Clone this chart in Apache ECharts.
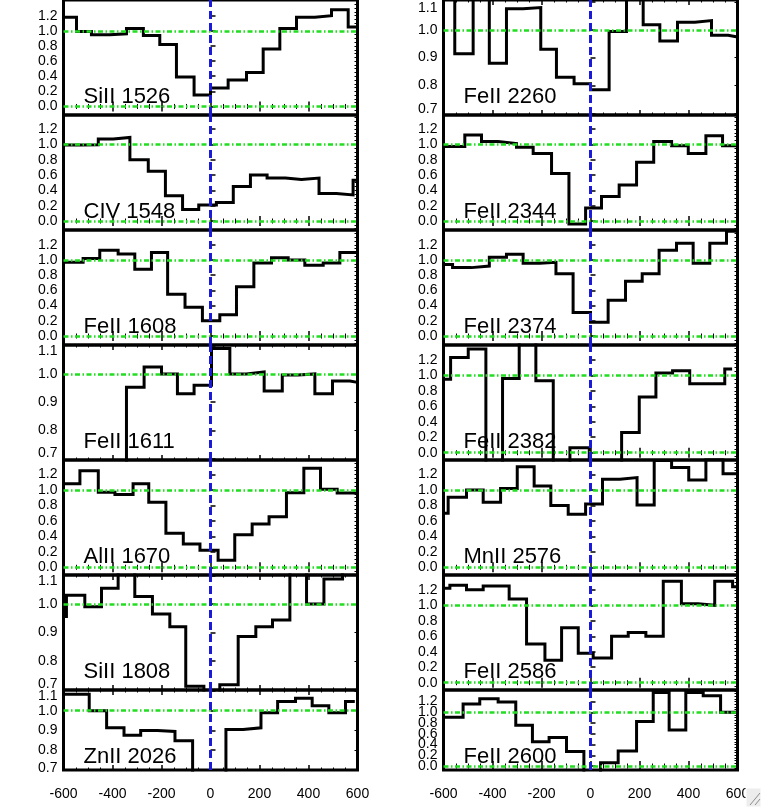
<!DOCTYPE html>
<html><head><meta charset="utf-8">
<script src="https://cdn.jsdelivr.net/npm/echarts@6/dist/echarts.min.js"></script>
<style>html,body{margin:0;padding:0;background:#fff}#c{width:761px;height:807px}</style>
</head><body><div id="c"></div>
<script>
// ---------------- data ----------------
const xTicks = [-600, -400, -200, 0, 200, 400, 600];
const normTicks = [0.0, 0.2, 0.4, 0.6, 0.8, 1.0, 1.2];
const narrowTicks = [0.7, 0.8, 0.9, 1.0, 1.1];

const namesLeft  = ["SiII 1526", "CIV 1548", "FeII 1608", "FeII 1611", "AlII 1670", "SiII 1808", "ZnII 2026"];
const namesRight = ["FeII 2260", "FeII 2344", "FeII 2374", "FeII 2382", "MnII 2576", "FeII 2586", "FeII 2600"];

// bin edges (km/s) and normalised flux per bin
const edges_SiII1526 = [-600, -547, -486, -411, -343, -274, -207, -139, -67, 0, 72, 147, 215, 283, 351, 426, 494, 562, 600];
const flux_SiII1526  = [1.18, 0.99, 0.95, 0.96, 1.03, 0.94, 0.82, 0.39, 0.15, 0.245, 0.35, 0.45, 0.76, 1.03, 1.18, 1.2, 1.28, 1.05];

const edges_CIV1548 = [-600, -527, -458, -397, -329, -254, -184, -114, -48, 24, 93, 163, 231, 306, 371, 443, 514, 582, 600];
const flux_CIV1548  = [0.99, 0.995, 1.07, 1.09, 0.8, 0.65, 0.33, 0.15, 0.21, 0.24, 0.45, 0.6, 0.56, 0.54, 0.56, 0.36, 0.34, 0.53];

const edges_FeII1608 = [-600, -520, -452, -377, -309, -241, -175, -104, -33, 38, 106, 177, 249, 317, 385, 460, 528, 600];
const flux_FeII1608  = [0.97, 1.02, 1.13, 1.08, 0.88, 1.10, 0.55, 0.38, 0.20, 0.28, 0.65, 0.96, 1.03, 1.0, 0.93, 0.96, 1.10];

const edges_FeII1611 = [-600, -549, -480, -412, -343, -271, -200, -135, -67, 4, 79, 147, 219, 293, 358, 426, 498, 569, 600];
const flux_FeII1611  = [0.55, 0.55, 0.6, 0.6, 0.953, 1.024, 1.0, 0.93, 0.96, 1.09, 1.0, 1.007, 0.94, 0.996, 1.0, 0.93, 0.975, 0.97];

const edges_AlII1670 = [-600, -533, -458, -390, -316, -252, -182, -111, -43, 31, 99, 170, 239, 310, 381, 449, 517, 600];
const flux_AlII1670  = [1.08, 1.25, 0.97, 0.94, 1.08, 0.84, 0.44, 0.30, 0.22, 0.09, 0.42, 0.56, 0.655, 0.965, 1.28, 1.01, 0.96];

const edges_SiII1808 = [-600, -588, -513, -445, -377, -309, -237, -166, -101, -27, 38, 113, 185, 253, 324, 392, 463, 539, 600];
const flux_SiII1808  = [0.956, 1.03, 0.99, 1.055, 1.15, 1.026, 0.965, 0.92, 0.712, 0.65, 0.717, 0.886, 0.92, 0.944, 1.15, 1.0, 1.087, 1.15];

const edges_ZnII2026 = [-600, -495, -424, -353, -285, -217, -145, -73, -5, 63, 133, 206, 274, 347, 415, 483, 551, 589];
const flux_ZnII2026  = [1.083, 1.0, 0.913, 0.875, 0.9, 0.895, 0.847, 0.6, 0.6, 0.905, 0.913, 0.99, 1.047, 1.063, 1.025, 0.99, 1.047];

const edges_FeII2260 = [-600, -554, -479, -413, -343, -275, -203, -139, -67, 0, 76, 147, 215, 283, 355, 426, 494, 562, 600];
const flux_FeII2260  = [1.15, 0.914, 1.15, 0.88, 1.076, 1.08, 0.93, 0.83, 0.806, 0.785, 0.994, 1.15, 1.018, 0.96, 1.027, 1.033, 0.98, 0.974];

const edges_FeII2344 = [-600, -513, -445, -377, -302, -234, -159, -88, -20, 45, 117, 188, 258, 331, 399, 471, 539, 600];
const flux_FeII2344  = [0.97, 1.12, 1.035, 1.01, 0.96, 0.88, 0.62, -0.04, 0.17, 0.32, 0.47, 0.765, 1.035, 0.98, 0.88, 1.11, 0.98];

const edges_FeII2374 = [-600, -563, -486, -413, -343, -275, -207, -141, -71, 0, 72, 143, 211, 280, 351, 419, 487, 555, 600];
const flux_FeII2374  = [0.94, 0.90, 0.92, 1.035, 1.075, 0.956, 0.97, 0.82, 0.31, 0.18, 0.47, 0.72, 0.82, 1.13, 1.22, 0.956, 1.22, 1.38];

const edges_FeII2382 = [-600, -571, -499, -427, -359, -291, -223, -152, -84, -5, 58, 127, 199, 267, 335, 405, 473, 548, 578];
const flux_FeII2382  = [0.95, 1.23, 1.34, -0.3, 0.96, 1.6, 0.93, -0.3, 0.065, -0.3, -0.3, 0.26, 0.72, 1.03, 1.06, 0.89, 0.89, 1.08];

const edges_MnII2576 = [-600, -581, -506, -438, -367, -299, -230, -162, -91, -20, 49, 120, 190, 260, 331, 401, 471, 541, 600];
const flux_MnII2576  = [0.70, 0.905, 1.0, 0.84, 1.02, 1.30, 1.05, 0.80, 0.685, 0.82, 1.14, 1.16, 0.805, 1.38, 1.29, 1.13, 1.40, 1.21];

const edges_FeII2586 = [-600, -574, -506, -438, -332, -261, -186, -118, -50, 11, 86, 154, 226, 297, 371, 439, 507, 580, 600];
const flux_FeII2586  = [1.22, 1.26, 1.20, 1.25, 1.08, 0.50, 0.29, 0.71, 0.38, 0.32, 0.60, 0.65, 0.60, 1.31, 1.02, 1.0, 1.31, 1.24];

const edges_FeII2600 = [-600, -520, -452, -377, -305, -237, -169, -98, -27, 41, 113, 188, 256, 321, 389, 460, 531, 600];
const flux_FeII2600  = [0.91, 1.155, 1.25, 1.19, 0.76, 0.45, 0.53, 0.27, -0.2, 0.06, 0.28, 0.83, 1.37, 0.67, 1.37, 1.31, 1.0];

// ---------------- layout ----------------
const FONT = '"Liberation Sans", Arial, Helvetica, sans-serif';
const GREEN = '#22dd22';
const BLUE = '#1a1ad8';
const COL_LEFT = [63.5, 443.5];
const COL_W = 294;
const ROW_TOP = [-2, 115, 230, 345, 460, 575, 690];
const ROW_BOT = [115, 230, 345, 460, 575, 690, 770];

const panels = [
  {name: namesLeft[0], col: 0, row: 0, e: edges_SiII1526, f: flux_SiII1526, kind: 'norm', yMin: -0.113, yMax: 1.408},
  {name: namesLeft[1], col: 0, row: 1, e: edges_CIV1548,  f: flux_CIV1548,  kind: 'norm', yMin: -0.117, yMax: 1.382},
  {name: namesLeft[2], col: 0, row: 2, e: edges_FeII1608, f: flux_FeII1608, kind: 'norm', yMin: -0.118, yMax: 1.395},
  {name: namesLeft[3], col: 0, row: 3, e: edges_FeII1611, f: flux_FeII1611, kind: 'narrow', yMin: 0.696, yMax: 1.102},
  {name: namesLeft[4], col: 0, row: 4, e: edges_AlII1670, f: flux_AlII1670, kind: 'norm', yMin: -0.10, yMax: 1.388},
  {name: namesLeft[5], col: 0, row: 5, e: edges_SiII1808, f: flux_SiII1808, kind: 'narrow', yMin: 0.699, yMax: 1.101},
  {name: namesLeft[6], col: 0, row: 6, e: edges_ZnII2026, f: flux_ZnII2026, kind: 'narrow', yMin: 0.699, yMax: 1.105},
  {name: namesRight[0], col: 1, row: 0, e: edges_FeII2260, f: flux_FeII2260, kind: 'narrow', yMin: 0.694, yMax: 1.107},
  {name: namesRight[1], col: 1, row: 1, e: edges_FeII2344, f: flux_FeII2344, kind: 'norm', yMin: -0.117, yMax: 1.382},
  {name: namesRight[2], col: 1, row: 2, e: edges_FeII2374, f: flux_FeII2374, kind: 'norm', yMin: -0.118, yMax: 1.395},
  {name: namesRight[3], col: 1, row: 3, e: edges_FeII2382, f: flux_FeII2382, kind: 'norm', yMin: -0.094, yMax: 1.391},
  {name: namesRight[4], col: 1, row: 4, e: edges_MnII2576, f: flux_MnII2576, kind: 'norm', yMin: -0.10, yMax: 1.388},
  {name: namesRight[5], col: 1, row: 5, e: edges_FeII2586, f: flux_FeII2586, kind: 'norm', yMin: -0.094, yMax: 1.391},
  {name: namesRight[6], col: 1, row: 6, e: edges_FeII2600, f: flux_FeII2600, kind: 'norm', yMin: -0.074, yMax: 1.415}
];

function minorList(lo, hi, step) {
  const out = [];
  for (let v = lo; v <= hi + 1e-9; v += step) out.push(Math.round(v * 1000) / 1000);
  return out;
}

const grids = [], xAxes = [], yAxes = [], series = [], graphics = [];
const green = {color: GREEN, width: 2.5, type: [5, 2.5, 1.5, 2.5]};
const blue = {color: BLUE, width: 3, type: [8, 4]};

panels.forEach((p, i) => {
  const top = ROW_TOP[p.row], bot = ROW_BOT[p.row];
  grids.push({left: COL_LEFT[p.col], width: COL_W, top: top, height: bot - top,
    show: true, borderColor: '#000', borderWidth: 3, backgroundColor: 'transparent', containLabel: false});
  const isBottom = p.row === 6;
  const xCommon = {
    type: 'value', gridIndex: i, min: -600, max: 600, interval: 200,
    axisLine: {show: false}, splitLine: {show: false},
    axisTick: {show: true, inside: true, length: 5, lineStyle: {color: '#000', width: 1.5}},
    minorTick: {show: true, splitNumber: 4, length: 2.5, lineStyle: {color: '#000', width: 1}}
  };
  xAxes.push(Object.assign({}, xCommon, {position: 'bottom',
    axisLabel: {show: isBottom, color: '#000', fontFamily: FONT, fontSize: 14, margin: 17,
      hideOverlap: false, showMinLabel: true, showMaxLabel: true, customValues: xTicks}}));
  xAxes.push(Object.assign({}, xCommon, {position: 'top', axisLabel: {show: false}}));

  const majors = p.kind === 'norm' ? normTicks : narrowTicks;
  const minors = p.kind === 'norm' ? minorList(-0.1, 1.4, 0.05) : narrowTicks;
  // labels split over two left axes (alternating) so that no axis has touching labels
  const groupA = majors.filter((v, k) => k % 2 === 0);
  const groupB = majors.filter((v, k) => k % 2 === 1);
  const labelCfg = (vals) => ({
    show: true, color: '#000', fontFamily: FONT, fontSize: 14, margin: 6,
    hideOverlap: false, showMinLabel: true, showMaxLabel: true,
    customValues: vals,
    formatter: function (v) {
      const s = v.toFixed(1);
      if (p.kind === 'narrow') {
        if (v > 1.05) return '{t|' + s + '}';
        if (v < 0.75) return '{b|' + s + '}';
      }
      return s;
    },
    rich: {
      t: {fontFamily: FONT, fontSize: 14, color: '#000', padding: [p.row === 6 ? 10 : 12, 0, 0, 0]},
      b: {fontFamily: FONT, fontSize: 14, color: '#000', padding: [0, 0, p.row === 6 ? 4 : (p.row === 0 ? 8 : 12), 0]}
    }
  });
  const yBase = yAxes.length;
  yAxes.push({
    type: 'value', gridIndex: i, position: 'left', min: p.yMin, max: p.yMax,
    axisLine: {show: false}, splitLine: {show: false},
    axisTick: {show: true, inside: true, length: 5, customValues: majors, lineStyle: {color: '#000', width: 1.5}},
    axisLabel: labelCfg(groupA)
  });
  yAxes.push({
    type: 'value', gridIndex: i, position: 'left', offset: 0, min: p.yMin, max: p.yMax,
    axisLine: {show: false}, splitLine: {show: false}, axisTick: {show: false},
    axisLabel: labelCfg(groupB)
  });
  yAxes.push({
    type: 'value', gridIndex: i, position: 'right', min: p.yMin, max: p.yMax,
    axisLine: {show: false}, splitLine: {show: false}, axisLabel: {show: false},
    axisTick: {show: true, inside: true, length: 3, customValues: minors, lineStyle: {color: '#000', width: 1}}
  });

  const pts = [];
  for (let k = 0; k < p.f.length; k++) pts.push([p.e[k], p.f[k]]);
  pts.push([p.e[p.e.length - 1], p.f[p.f.length - 1]]);

  const ml = [{yAxis: 1, lineStyle: green}];
  if (p.kind === 'norm') ml.push({yAxis: 0, lineStyle: green});
  ml.push({xAxis: 0, lineStyle: blue});

  series.push({
    type: 'line', xAxisIndex: 2 * i, yAxisIndex: yBase, data: pts, step: 'end',
    symbol: 'none', clip: true, animation: false, silent: true,
    lineStyle: {color: '#000', width: 3, join: 'miter', cap: 'butt'},
    markLine: {silent: true, symbol: ['none', 'none'], label: {show: false}, animation: false,
      emphasis: {disabled: true}, data: ml}
  });

  graphics.push({
    type: 'text', x: COL_LEFT[p.col] + 20, y: bot - (p.row === 6 ? 13 : 18), z: 100,
    style: {text: p.name, font: '22px ' + FONT, fill: '#000', verticalAlign: 'middle', align: 'left'}
  });
});

// window resize grip (bottom-right corner of the screenshot)
graphics.push({type: 'rect', x: 746, y: 788, z: 200, shape: {x: 0, y: 0, width: 15, height: 19},
  style: {fill: '#ededed', stroke: '#ffffff', lineWidth: 1}});
graphics.push({type: 'line', z: 201, shape: {x1: 750, y1: 805, x2: 760, y2: 793}, style: {stroke: '#8c8c8c', lineWidth: 1}});
graphics.push({type: 'line', z: 201, shape: {x1: 755, y1: 805, x2: 760, y2: 799}, style: {stroke: '#8c8c8c', lineWidth: 1}});

const chart = echarts.init(document.getElementById('c'), null, {renderer: 'canvas'});
chart.setOption({
  animation: false,
  backgroundColor: '#fff',
  grid: grids,
  xAxis: xAxes,
  yAxis: yAxes,
  series: series,
  graphic: graphics
});
</script></body></html>
